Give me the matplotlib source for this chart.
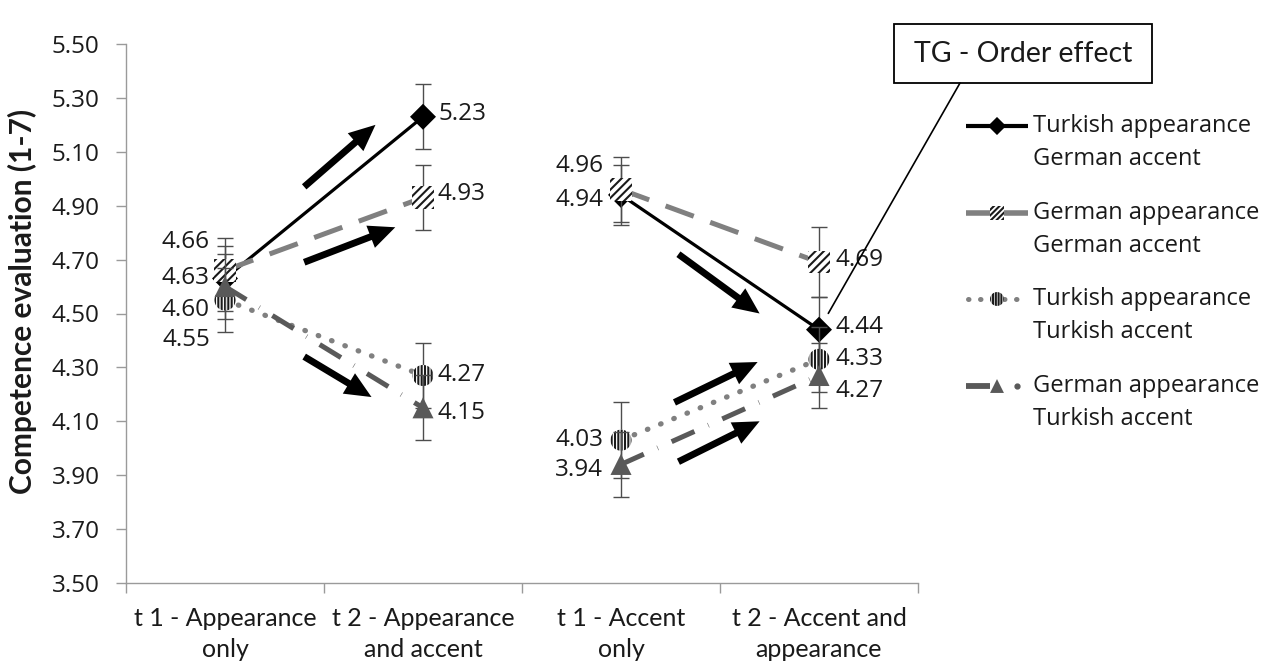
import matplotlib
matplotlib.use("Agg")
import matplotlib.pyplot as plt
from matplotlib.patches import Rectangle, ConnectionPatch, FancyArrowPatch

# ---- data -------------------------------------------------------------
categories = ["t 1 - Appearance\nonly", "t 2 - Appearance\nand accent",
              "t 1 - Accent\nonly", "t 2 - Accent and\nappearance"]
series_names = ["Turkish appearance\nGerman accent",
                "German appearance\nGerman accent",
                "Turkish appearance\nTurkish accent",
                "German appearance\nTurkish accent"]

tg_values = [4.63, 5.23, 4.94, 4.44]
gg_values = [4.66, 4.93, 4.96, 4.69]
tt_values = [4.55, 4.27, 4.03, 4.33]
gt_values = [4.60, 4.15, 3.94, 4.27]

tg_err = [0.12, 0.12, 0.11, 0.12]
gg_err = [0.12, 0.12, 0.12, 0.13]
tt_err = [0.12, 0.12, 0.14, 0.12]
gt_err = [0.12, 0.12, 0.12, 0.12]

y_ticks = [3.50, 3.70, 3.90, 4.10, 4.30, 4.50, 4.70, 4.90, 5.10, 5.30, 5.50]

# change arrows (tail -> head, data units)
arrow_tails = [(0.40, 4.97), (0.40, 4.69), (0.40, 4.34),
               (2.29, 4.72), (2.27, 4.17), (2.29, 3.95)]
arrow_heads = [(0.76, 5.20), (0.86, 4.82), (0.74, 4.19),
               (2.70, 4.50), (2.69, 4.32), (2.70, 4.10)]

callout_text = "TG - Order effect"

# ---- styling ----------------------------------------------------------
plt.rcParams["hatch.linewidth"] = 1.5
plt.rcParams["hatch.color"] = "#1a1a1a"
num_font = "Open Sans"
cat_font = "Lato"
axis_grey = "#9a9a9a"
text_col = "#1a1a1a"
num_size = 17.5
legend_size = 17

series = [
    dict(values=tg_values, err=tg_err, color="black", ls="-", lw=2.3,
         marker="D", size=175, face="black", hatch=None,
         dy=[0, 3, -5, 3]),
    dict(values=gg_values, err=gg_err, color="#808080", ls=(0, (6, 3.5)), lw=3.6,
         marker="s", size=260, face="white", hatch="////",
         dy=[28, 4, 24, 2]),
    dict(values=tt_values, err=tt_err, color="#808080", ls=(0, (0.1, 2.6)), lw=3.8,
         marker="o", size=230, face="white", hatch="|||||",
         dy=[-40, 0, 0, 0]),
    dict(values=gt_values, err=gt_err, color="#595959", ls=(0, (5, 3, 0.1, 3)), lw=3.6,
         marker="^", size=230, face="#595959", hatch=None,
         dy=[-23, -5, -6, -16]),
]
label_ha = ["right", "left", "right", "left"]
label_dx = [-15, 15, -18, 17]

fig = plt.figure(figsize=(12.71, 6.66), dpi=100)
ax = fig.add_axes([126 / 1271, 1 - 583 / 666, 792 / 1271, 539 / 666])

x = list(range(len(categories)))
groups = [(0, 2), (2, 4)]

for k, s in enumerate(series):
    z = 3 + k * 3
    vals = s["values"]
    for a, b in groups:
        ax.plot(x[a:b], vals[a:b], color=s["color"], ls=s["ls"], lw=s["lw"],
                solid_capstyle="butt", dash_capstyle="round" if k == 2 else "butt",
                zorder=z)
    ax.errorbar(x, vals, yerr=s["err"], fmt="none", ecolor="#4d4d4d",
                elinewidth=1.0, capsize=6, capthick=1.0, zorder=z + 1)
    ax.scatter(x, vals, s=s["size"], marker=s["marker"], facecolors=s["face"],
               edgecolors="#1a1a1a" if s["hatch"] else "none",
               linewidths=0, hatch=s["hatch"], zorder=z + 2)
    for i, v in enumerate(vals):
        ax.annotate(f"{v:.2f}", (x[i], v), xytext=(label_dx[i], s["dy"][i]),
                    textcoords="offset pixels", ha=label_ha[i], va="center",
                    fontsize=num_size, family=num_font, color=text_col, zorder=20)

# arrows showing the direction of change
for (x0, y0), (x1, y1) in zip(arrow_tails, arrow_heads):
    ax.add_patch(FancyArrowPatch((x0, y0), (x1, y1),
                 arrowstyle="simple,head_length=1.0,head_width=0.9,tail_width=0.26",
                 mutation_scale=19, fc="black", ec="none", shrinkA=0, shrinkB=0,
                 zorder=25))

# axes
ax.set_xlim(-0.5, 3.5)
ax.set_ylim(3.5, 5.5)
ax.set_yticks(y_ticks)
ax.set_yticklabels([f"{t:.2f}" for t in y_ticks], family=num_font, fontsize=num_size,
                   color=text_col)
ax.set_xticks([-0.5, 0.5, 1.5, 2.5, 3.5])
ax.set_xticklabels([])
ax.set_xticks(x, minor=True)
ax.set_xticklabels(categories, minor=True, family=cat_font, fontsize=18,
                   color=text_col, linespacing=1.45)
ax.tick_params(axis="x", which="major", length=7, color=axis_grey, width=1)
ax.tick_params(axis="x", which="minor", length=0, pad=17)
ax.tick_params(axis="y", length=7, color=axis_grey, width=1, pad=12)
for side in ("top", "right"):
    ax.spines[side].set_visible(False)
for side in ("left", "bottom"):
    ax.spines[side].set_color(axis_grey)
    ax.spines[side].set_linewidth(1)

fig.text(22 / 1271, 1 - 301 / 666, "Competence evaluation (1-7)", rotation=90,
         ha="center", va="center", family=cat_font, fontweight="bold",
         fontsize=21.5, color=text_col)

# legend drawn on an overlay in pixel units
lax = fig.add_axes([0, 0, 1, 1])
lax.set_xlim(0, 1271)
lax.set_ylim(666, 0)
lax.axis("off")
lax.patch.set_alpha(0)

leg_rows = [126, 213, 299, 386]
for k, (s, name, yy) in enumerate(zip(series, series_names, leg_rows)):
    if k == 3:
        lax.plot([966, 990], [yy, yy], color=s["color"], lw=4.2,
                 solid_capstyle="butt")
        lax.plot([1017], [yy], "o", color=s["color"], ms=3.5)
    elif k == 2:
        lax.plot([968, 1026], [yy, yy], color=s["color"], ls=(0, (0.1, 2.3)),
                 lw=3.6, dash_capstyle="round")
    else:
        lax.plot([966, 1028], [yy, yy], color=s["color"], lw=3 if k == 0 else 4,
                 solid_capstyle="butt")
    if k in (1, 2):
        lax.scatter([997], [yy], s=110 if k == 1 else 100, marker=s["marker"],
                    facecolors="white", edgecolors="#1a1a1a", linewidths=0,
                    hatch="//////" if k == 1 else "||||||", zorder=5)
    else:
        lax.scatter([997], [yy], s=85 if k == 0 else 100, marker=s["marker"],
                    facecolors=s["face"], edgecolors="none", zorder=5)
    first, second = name.split("\n")
    lax.text(1033, yy, first, ha="left", va="center", family=num_font,
             fontsize=legend_size, color=text_col)
    lax.text(1033, yy + 33, second, ha="left", va="center", family=num_font,
             fontsize=legend_size, color=text_col)

# callout box
lax.add_patch(Rectangle((894, 24), 258, 59, fc="white", ec="black", lw=1.3,
                        zorder=30))
lax.text(1023, 53.5, callout_text, ha="center", va="center", family=cat_font,
         fontsize=20.5, color=text_col, zorder=31)
con = ConnectionPatch(xyA=(960, 83), coordsA=lax.transData,
                      xyB=(x[3], tg_values[3]), coordsB=ax.transData,
                      arrowstyle="-", shrinkA=0, shrinkB=13.5, color="black",
                      lw=1.2, zorder=29)
fig.add_artist(con)

fig.savefig("out.png", dpi=100, facecolor="white")
